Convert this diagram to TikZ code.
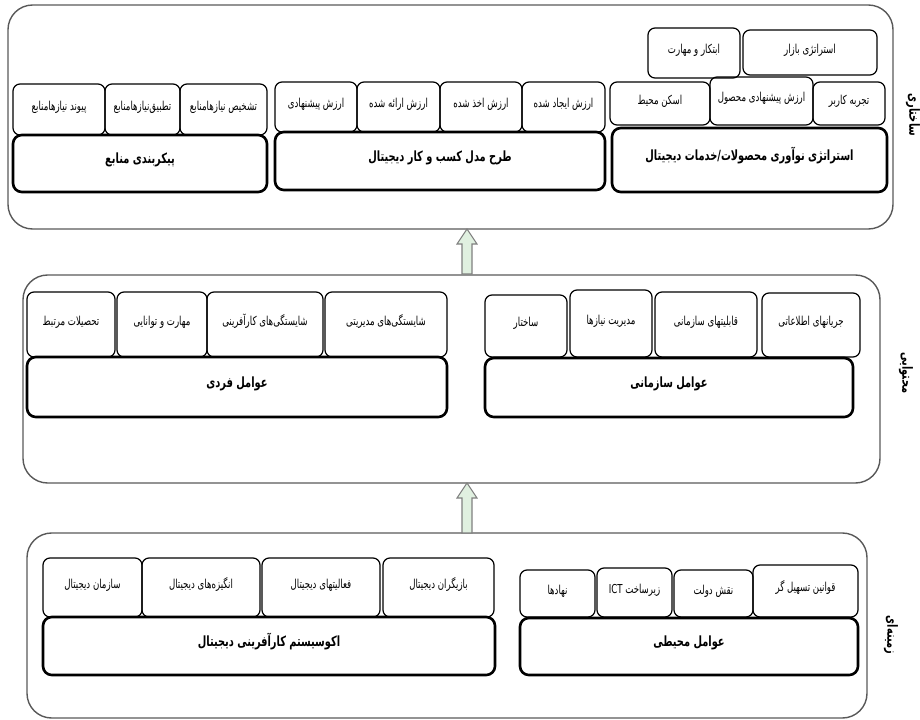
\documentclass[tikz,border=0pt]{standalone}
\usepackage{fontspec}
\usetikzlibrary{positioning,fit,calc}
\newfontfamily\arfont[Script=Arabic,FakeStretch=0.7]{DejaVu Sans}
\TeXXeTstate=1
\newcommand{\fatxt}[1]{\raisebox{-2.5pt}{\beginR #1\endR}}

\tikzset{
   layer/.style={draw=black!65, line width=0.8pt, rounded corners=14pt, inner sep=0pt},
   subbox/.style={draw, line width=0.7pt, rounded corners=4pt, inner sep=0pt,
      font=\arfont\fontsize{7}{8.5}\selectfont},
   mainbox/.style={draw, line width=1.5pt, rounded corners=5pt, inner sep=0pt,
      font=\arfont\bfseries\fontsize{8}{10}\selectfont},
   sidelabel/.style={rotate=-90, font=\arfont\bfseries\fontsize{8}{10}\selectfont},
   blockarrow/.style={draw=black!50, fill=green!50!black!12, line width=0.6pt},
}

\begin{document}
\begin{tikzpicture}[x=0.02cm, y=-0.02cm]
   \useasboundingbox (0,0) rectangle (920,720);

   % three layers
   \node[layer, fit={(8,5) (893,229)}]    (structural) {};
   \node[layer, fit={(23,275) (880,483)}] (content) {};
   \node[layer, fit={(27,533) (867,718)}] (context) {};

   \node[sidelabel] (lstruct)  at (913,115) {\fatxt{ساختاری}};
   \node[sidelabel] (lcontent) at (906,373) {\fatxt{محتوایی}};
   \node[sidelabel] (lcontext) at (891,635) {\fatxt{زمینه‌ای}};

   % structural layer
   \node[mainbox, fit={(13,135) (267,192)}] (res) {\fatxt{پیکربندی منابع}};
   \node[subbox, fit={(13,84) (105,135)}]   (res1) {\fatxt{پیوند نیازهامنابع}};
   \node[subbox, fit={(105,84) (180,135)}]  (res2) {\fatxt{تطبیق‌نیازهامنابع}};
   \node[subbox, fit={(180,84) (267,135)}]  (res3) {\fatxt{تشخیص نیازهامنابع}};

   \node[mainbox, fit={(275,132) (605,190)}] (bm) {\fatxt{طرح مدل کسب و کار دیجیتال}};
   \node[subbox, fit={(275,82) (357,132)}]   (bm1) {\fatxt{ارزش پیشنهادی}};
   \node[subbox, fit={(357,82) (440,132)}]   (bm2) {\fatxt{ارزش ارائه شده}};
   \node[subbox, fit={(440,82) (522,132)}]   (bm3) {\fatxt{ارزش اخذ شده}};
   \node[subbox, fit={(522,82) (605,132)}]   (bm4) {\fatxt{ارزش ایجاد شده}};

   \node[mainbox, fit={(612,128) (887,192)}] (inn) {\fatxt{استراتژی نوآوری محصولات/خدمات دیجیتال}};
   \node[subbox, fit={(610,82) (710,125)}]   (inn1) {\fatxt{اسکن محیط}};
   \node[subbox, fit={(710,77) (813,125)}]   (inn2) {\fatxt{ارزش پیشنهادی محصول}};
   \node[subbox, fit={(813,82) (885,125)}]   (inn3) {\fatxt{تجربه کاربر}};
   \node[subbox, fit={(648,28) (740,78)}]    (inn4) {\fatxt{ابتکار و مهارت}};
   \node[subbox, fit={(743,30) (877,75)}]    (inn5) {\fatxt{استراتژی بازار}};

   % content layer
   \node[mainbox, fit={(27,357) (447,417)}] (ind) {\fatxt{عوامل فردی}};
   \node[subbox, fit={(27,292) (115,357)}]  (ind1) {\fatxt{تحصیلات مرتبط}};
   \node[subbox, fit={(117,292) (207,357)}] (ind2) {\fatxt{مهارت و توانایی}};
   \node[subbox, fit={(207,292) (323,357)}] (ind3) {\fatxt{شایستگی‌های کارآفرینی}};
   \node[subbox, fit={(325,292) (447,357)}] (ind4) {\fatxt{شایستگی‌های مدیریتی}};

   \node[mainbox, fit={(485,358) (853,417)}] (org) {\fatxt{عوامل سازمانی}};
   \node[subbox, fit={(485,295) (567,357)}]  (org1) {\fatxt{ساختار}};
   \node[subbox, fit={(570,290) (652,357)}]  (org2) {\fatxt{مدیریت نیازها}};
   \node[subbox, fit={(655,292) (757,357)}]  (org3) {\fatxt{قابلیتهای سازمانی}};
   \node[subbox, fit={(762,293) (860,357)}]  (org4) {\fatxt{جریانهای اطلاعاتی}};

   % context layer
   \node[mainbox, fit={(43,617) (495,675)}] (eco) {\fatxt{اکوسیستم کارآفرینی دیجیتال}};
   \node[subbox, fit={(43,558) (142,617)}]  (eco1) {\fatxt{سازمان دیجیتال}};
   \node[subbox, fit={(142,558) (260,617)}] (eco2) {\fatxt{انگیزه‌های دیجیتال}};
   \node[subbox, fit={(262,558) (380,617)}] (eco3) {\fatxt{فعالیتهای دیجیتال}};
   \node[subbox, fit={(383,558) (494,617)}] (eco4) {\fatxt{بازیگران دیجیتال}};

   \node[mainbox, fit={(520,618) (858,675)}] (env) {\fatxt{عوامل محیطی}};
   \node[subbox, fit={(520,570) (595,617)}]  (env1) {\fatxt{نهادها}};
   \node[subbox, fit={(597,568) (672,617)}]  (env2) {\fatxt{زیرساخت \beginL ICT\endL{}}};
   \node[subbox, fit={(674,570) (753,617)}]  (env3) {\fatxt{نقش دولت}};
   \node[subbox, fit={(753,565) (858,617)}]  (env4) {\fatxt{قوانین تسهیل گر}};

   % block arrows between the layers
   \coordinate (tip1) at (467,229);
   \coordinate (tip2) at (467,483);
   \draw[blockarrow] (tip1) -- ++(10,15) -- ++(-5,0) -- ++(0,30) -- ++(-10,0)
      -- ++(0,-30) -- ++(-5,0) -- cycle;
   \draw[blockarrow] (tip2) -- ++(10,15) -- ++(-5,0) -- ++(0,35) -- ++(-10,0)
      -- ++(0,-35) -- ++(-5,0) -- cycle;
\end{tikzpicture}
\end{document}
